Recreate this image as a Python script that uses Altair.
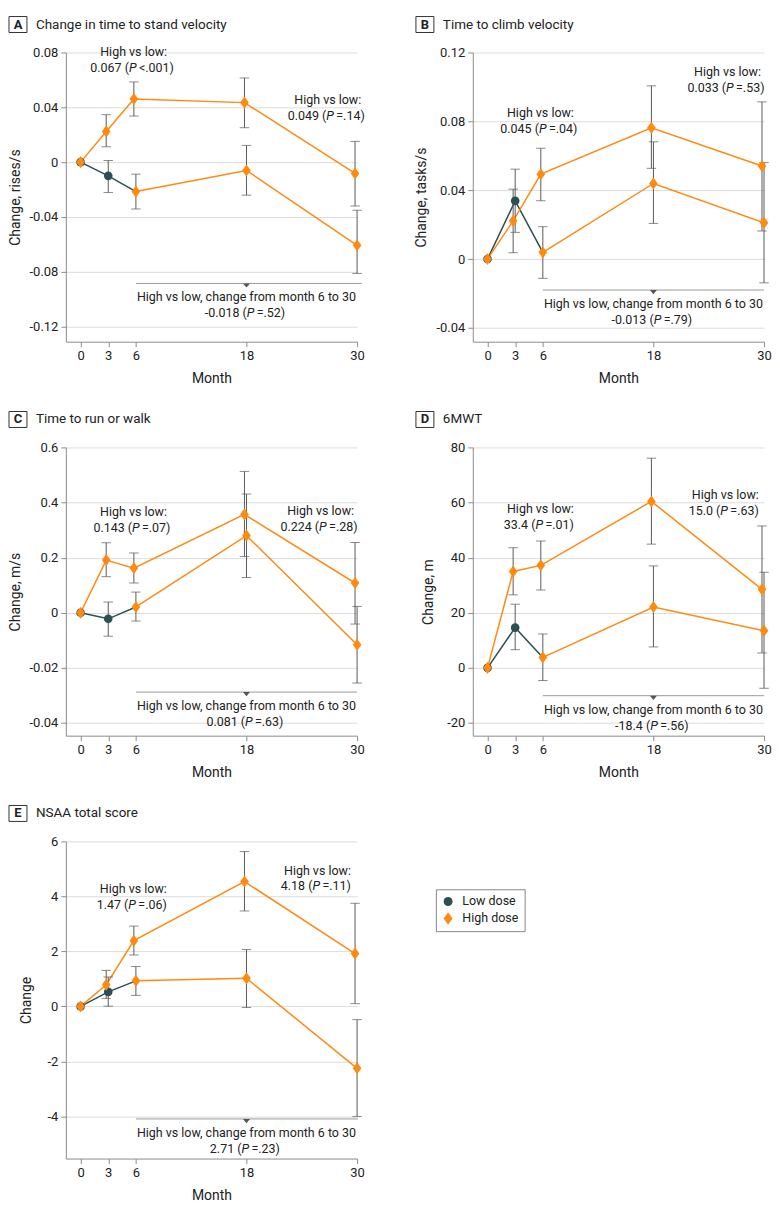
import altair as alt
import pandas as pd

# ---------------- data ----------------
MONTHS = [0, 3, 6, 18, 30]

PANEL_LETTERS = ["A", "B", "C", "D", "E"]
PANEL_TITLES = ["Change in time to stand velocity", "Time to climb velocity",
                "Time to run or walk", "6MWT", "NSAA total score"]
Y_TITLES = ["Change, rises/s", "Change, tasks/s", "Change, m/s", "Change, m", "Change"]

Y_DOMAINS = [[-0.131, 0.08], [-0.048, 0.12], [-0.446, 0.6], [-24.6, 80], [-5.53, 6]]
Y_TICKS = [[-0.12, -0.08, -0.04, 0, 0.04, 0.08],
           [-0.04, 0, 0.04, 0.08, 0.12],
           [-0.4, -0.2, 0, 0.2, 0.4, 0.6],
           [-20, 0, 20, 40, 60, 80],
           [-4, -2, 0, 2, 4, 6]]
Y_TICK_LABELS = [["-0.12", "-0.08", "-0.04", "0", "0.04", "0.08"],
                 ["-0.04", "0", "0.04", "0.08", "0.12"],
                 ["-0.04", "-0.02", "0", "0.2", "0.4", "0.6"],
                 ["-20", "0", "20", "40", "60", "80"],
                 ["-4", "-2", "0", "2", "4", "6"]]

# Panel A - time to stand velocity
A_HIGH = [0, 0.0224, 0.0460, 0.0434, -0.0083]
A_HIGH_LO = [None, 0.0112, 0.0336, 0.0251, -0.0320]
A_HIGH_HI = [None, 0.0346, 0.0585, 0.0614, 0.0151]
A_LOW = [0, -0.0100, -0.0215, -0.0061, -0.0607]
A_LOW_LO = [None, -0.0222, -0.0342, -0.0241, -0.0812]
A_LOW_HI = [None, 0.0012, -0.0088, 0.0122, -0.0351]

# Panel B - time to climb velocity
B_HIGH = [0, 0.0222, 0.0493, 0.0762, 0.0540]
B_HIGH_LO = [None, 0.0037, 0.0339, 0.0527, 0.0163]
B_HIGH_HI = [None, 0.0406, 0.0643, 0.1006, 0.0913]
B_LOW = [0, 0.0338, 0.0039, 0.0439, 0.0211]
B_LOW_LO = [None, 0.0155, -0.0112, 0.0207, -0.0138]
B_LOW_HI = [None, 0.0522, 0.0188, 0.0681, 0.0560]

# Panel C - time to run or walk
C_HIGH = [0, 0.191, 0.162, 0.357, 0.108]
C_HIGH_LO = [None, 0.131, 0.108, 0.204, -0.041]
C_HIGH_HI = [None, 0.254, 0.217, 0.513, 0.255]
C_LOW = [0, -0.022, 0.021, 0.280, -0.116]
C_LOW_LO = [None, -0.085, -0.030, 0.128, -0.255]
C_LOW_HI = [None, 0.039, 0.075, 0.431, 0.023]

# Panel D - 6MWT
D_HIGH = [0, 35.0, 37.2, 60.4, 28.5]
D_HIGH_LO = [None, 26.5, 28.3, 44.9, 5.4]
D_HIGH_HI = [None, 43.6, 46.0, 76.1, 51.5]
D_LOW = [0, 14.6, 3.8, 22.1, 13.5]
D_LOW_LO = [None, 6.6, -4.6, 7.6, -7.4]
D_LOW_HI = [None, 23.1, 12.3, 37.0, 34.7]

# Panel E - NSAA total score
E_HIGH = [0, 0.79, 2.39, 4.54, 1.92]
E_HIGH_LO = [None, 0.29, 1.87, 3.47, 0.10]
E_HIGH_HI = [None, 1.31, 2.92, 5.63, 3.75]
E_LOW = [0, 0.53, 0.93, 1.02, -2.25]
E_LOW_LO = [None, 0.01, 0.40, -0.04, -4.00]
E_LOW_HI = [None, 1.07, 1.45, 2.07, -0.48]

SERIES = [
    (A_HIGH, A_HIGH_LO, A_HIGH_HI, A_LOW, A_LOW_LO, A_LOW_HI),
    (B_HIGH, B_HIGH_LO, B_HIGH_HI, B_LOW, B_LOW_LO, B_LOW_HI),
    (C_HIGH, C_HIGH_LO, C_HIGH_HI, C_LOW, C_LOW_LO, C_LOW_HI),
    (D_HIGH, D_HIGH_LO, D_HIGH_HI, D_LOW, D_LOW_LO, D_LOW_HI),
    (E_HIGH, E_HIGH_LO, E_HIGH_HI, E_LOW, E_LOW_LO, E_LOW_HI),
]

# annotations
ANN_HEAD = "High vs low:"
ANN_LEFT_STAT = ["0.067 (P <.001)", "0.045 (P =.04)", "0.143 (P =.07)", "33.4 (P =.01)", "1.47 (P =.06)"]
ANN_LEFT_X = [5.76, 5.74, 5.74, 5.74, 5.72]
ANN_LEFT_Y = [0.0806, 0.0846, 0.3655, 57.5, 4.28]
ANN_RIGHT_STAT = ["0.049 (P =.14)", "0.033 (P =.53)", "0.224 (P =.28)", "15.0 (P =.63)", "4.18 (P =.11)"]
ANN_RIGHT_X = [26.82, 26.04, 26.04, 25.8, 25.7]
ANN_RIGHT_Y = [0.0455, 0.1087, 0.369, 62.7, 4.94]
BOTTOM_HEAD = "High vs low, change from month 6 to 30"
BOTTOM_STAT = ["-0.018 (P =.52)", "-0.013 (P =.79)", "0.081 (P =.63)", "-18.4 (P =.56)", "2.71 (P =.23)"]
BOTTOM_RULE_Y = [-0.0885, -0.018, -0.2878, -10.1, -4.09]
BOTTOM_RULE_X = [6, 6, 6, 6, 6]
BOTTOM_RULE_X2 = [30.5, 30, 30, 30, 30.1]
BOTTOM_MARK_X = 18

DOSES = ["Low dose", "High dose"]

# ---------------- style ----------------
FONT = "Roboto"
TXT = "#222222"
AXC = "#8c8c8c"
GRID = "#dcdcdc"
EB = "#5a5a5a"
TEAL = "#2b4f52"
ORANGE = "#ff8a10"
DIAMOND = "M0,-1.4L1,0L0,1.4L-1,0Z"
TRI_DOWN = "M-1,0L1,0L0,1.2Z"
NBSP = "\u00a0"

PLOT_W = 292
HEIGHTS = [290, 290, 289, 289, 318]
X_DOMAIN = [-1.6, 30]
HIGH_SHIFT = -0.22
Y_TITLE_X = [-50, -51.6, -50.8, -44, -39.2]
FS = 12.5

COLOR_SCALE = alt.Scale(domain=DOSES, range=[TEAL, ORANGE])
SHAPE_SCALE = alt.Scale(domain=DOSES, range=["circle", DIAMOND])

CHAR_W = {c: 0.562 for c in "0123456789"}
CHAR_W.update({".": 0.26, " ": 0.25, "(": 0.34, ")": 0.35, "<": 0.51, "=": 0.55,
               "-": 0.28, "P": 0.8})


def text_w(s):
    return sum(CHAR_W.get(c, 0.55) for c in s) * FS


def label_expr(vals, labels):
    parts = [f"abs(datum.value - ({v})) < 0.000001 ? '{l}'" for v, l in zip(vals, labels)]
    return " : ".join(parts) + " : ''"


def make_panel(i):
    high, hlo, hhi, low, llo, lhi = SERIES[i]
    H = HEIGHTS[i]
    ydom = Y_DOMAINS[i]
    ppm = PLOT_W / (X_DOMAIN[1] - X_DOMAIN[0])
    vpp = (ydom[1] - ydom[0]) / H

    xs = alt.Scale(domain=X_DOMAIN, nice=False, zero=False)
    ys = alt.Scale(domain=ydom, nice=False, zero=False)

    def X(f):
        return alt.X(f, type="quantitative", scale=xs)

    def Y(f):
        return alt.Y(f, type="quantitative", scale=ys)

    # frames
    pts, bars, caps, lines = [], [], [], []
    for j, m in enumerate(MONTHS):
        d = DOSES[0] if m <= 3 else DOSES[1]
        pts.append(dict(x=m, v=low[j], dose=d))
        if llo[j] is not None:
            bars.append(dict(x=m, lo=llo[j], hi=lhi[j]))
            caps += [dict(x=m, v=llo[j]), dict(x=m, v=lhi[j])]
        if m <= 6:
            lines.append(dict(x=m, v=low[j], dose=DOSES[0], seg="low1"))
        if m >= 6:
            lines.append(dict(x=m, v=low[j], dose=DOSES[1], seg="low2"))
    for j, m in enumerate(MONTHS):
        xm = m + (HIGH_SHIFT if m > 0 else 0)
        pts.append(dict(x=xm, v=high[j], dose=DOSES[1]))
        if hlo[j] is not None:
            bars.append(dict(x=xm, lo=hlo[j], hi=hhi[j]))
            caps += [dict(x=xm, v=hlo[j]), dict(x=xm, v=hhi[j])]
        lines.append(dict(x=xm, v=high[j], dose=DOSES[1], seg="high"))

    pts, bars, caps, lines = map(pd.DataFrame, (pts, bars, caps, lines))

    xaxis = alt.Axis(values=MONTHS, title="Month", grid=False, tickSize=5,
                     labelPadding=3, titlePadding=9, domainColor=AXC, tickColor=AXC,
                     labelFont=FONT, titleFont=FONT, labelFontSize=13, titleFontSize=14,
                     labelColor=TXT, titleColor=TXT, titleFontWeight="normal",
                     labelFlush=False)
    yaxis = alt.Axis(values=Y_TICKS[i], labelExpr=label_expr(Y_TICKS[i], Y_TICK_LABELS[i]),
                     title=Y_TITLES[i], grid=True, gridColor=GRID, tickSize=5,
                     labelPadding=3, domainColor=AXC, tickColor=AXC,
                     labelFont=FONT, titleFont=FONT, labelFontSize=13, titleFontSize=14,
                     labelColor=TXT, titleColor=TXT, titleFontWeight="normal",
                     titleX=Y_TITLE_X[i], titleBaseline="middle", labelFlush=False)

    line_l = alt.Chart(lines).mark_line(strokeWidth=1.5).encode(
        x=alt.X("x:Q", scale=xs, axis=xaxis),
        y=alt.Y("v:Q", scale=ys, axis=yaxis),
        stroke=alt.Stroke("dose:N", scale=COLOR_SCALE, legend=None),
        detail="seg:N",
    )
    bar_l = alt.Chart(bars).mark_rule(color=EB, strokeWidth=1).encode(
        x=X("x"), y=Y("lo"), y2="hi:Q")
    cap_l = alt.Chart(caps).mark_tick(orient="horizontal", size=9.5, thickness=1, color=EB).encode(
        x=X("x"), y=Y("v"))

    if i == 4:
        legend = alt.Legend(title=None, orient="none", legendX=371, legendY=48,
                            strokeColor="#888888", fillColor="white", padding=6,
                            labelFont=FONT, labelFontSize=12.5, labelColor=TXT,
                            symbolSize=80, labelOffset=8, rowPadding=3,
                            symbolStrokeWidth=0)
    else:
        legend = None
    pt_l = alt.Chart(pts).mark_point(filled=True, opacity=1, size=75).encode(
        x=X("x"), y=Y("v"),
        color=alt.Color("dose:N", scale=COLOR_SCALE, legend=legend),
        shape=alt.Shape("dose:N", scale=SHAPE_SCALE, legend=legend),
    )

    # bottom comparison bracket
    rule_df = pd.DataFrame({"x": [BOTTOM_RULE_X[i]], "x2": [BOTTOM_RULE_X2[i]],
                            "v": [BOTTOM_RULE_Y[i]], "m": [BOTTOM_MARK_X]})
    rule_l = alt.Chart(rule_df).mark_rule(color="#9a9a9a", strokeWidth=1).encode(
        x=X("x"), x2="x2:Q", y=Y("v"))
    tri_l = alt.Chart(rule_df).mark_point(shape=TRI_DOWN, filled=True, size=49,
                                          color="#555555", opacity=1).encode(
        x=X("m"), y=Y("v"))

    # annotation texts
    heads = pd.DataFrame({
        "x": [ANN_LEFT_X[i], ANN_RIGHT_X[i], BOTTOM_MARK_X],
        "v": [ANN_LEFT_Y[i], ANN_RIGHT_Y[i], BOTTOM_RULE_Y[i] - 14 * vpp],
        "t": [ANN_HEAD, ANN_HEAD, BOTTOM_HEAD],
    })
    stats = [(ANN_LEFT_X[i], ANN_LEFT_Y[i] - 16 * vpp, ANN_LEFT_STAT[i]),
             (ANN_RIGHT_X[i], ANN_RIGHT_Y[i] - 16 * vpp, ANN_RIGHT_STAT[i]),
             (BOTTOM_MARK_X, BOTTOM_RULE_Y[i] - 30 * vpp, BOTTOM_STAT[i])]
    rows = []
    for (cx, cy, s) in stats:
        left, right = s.split("P", 1)
        wl, wp, wr = text_w(left), text_w("P"), text_w(right)
        pl = -(wl + wp + wr) / 2 + wl
        rows.append(dict(v=cy, xl=cx + pl / ppm, xr=cx + (pl + wp) / ppm,
                         left=left.replace(" ", NBSP), p="P",
                         right=right.strip()))
    stat_df = pd.DataFrame(rows)

    tkw = dict(font=FONT, fontSize=FS, color=TXT, baseline="middle")
    head_l = alt.Chart(heads).mark_text(align="center", **tkw).encode(
        x=X("x"), y=Y("v"), text="t:N")
    sl_l = alt.Chart(stat_df).mark_text(align="right", **tkw).encode(
        x=X("xl"), y=Y("v"), text="left:N")
    sp_l = alt.Chart(stat_df).mark_text(align="left", fontStyle="italic", **tkw).encode(
        x=X("xl"), y=Y("v"), text="p:N")
    sr_l = alt.Chart(stat_df).mark_text(align="left", **tkw).encode(
        x=X("xr"), y=Y("v"), text="right:N")

    # panel label and title
    lab = pd.DataFrame({"letter": [PANEL_LETTERS[i]], "title": [PANEL_TITLES[i]]})
    box_l = alt.Chart(lab).mark_rect(fill="white", stroke="#333333", strokeWidth=1).encode(
        x=alt.value(-57), x2=alt.value(-39), y=alt.value(-36), y2=alt.value(-20))
    let_l = alt.Chart(lab).mark_text(font=FONT, fontSize=13, fontWeight="bold",
                                     align="center", baseline="middle", color=TXT).encode(
        x=alt.value(-48), y=alt.value(-28), text="letter:N")
    tit_l = alt.Chart(lab).mark_text(font=FONT, fontSize=13.5, align="left",
                                     baseline="middle", color=TXT).encode(
        x=alt.value(-30), y=alt.value(-28), text="title:N")

    return alt.layer(line_l, bar_l, cap_l, rule_l, tri_l, pt_l, head_l, sl_l, sp_l, sr_l,
                     box_l, let_l, tit_l).properties(width=PLOT_W, height=H)


panels = [make_panel(i) for i in range(5)]

chart = alt.concat(*panels, columns=2, spacing={"row": 106, "column": 116},
                   bounds="flush").resolve_scale(
    color="independent", shape="independent"
).properties(
    padding={"left": 0, "top": 6, "right": 0, "bottom": 0},
    background="white",
).configure_view(stroke=None)

chart.save("out.html", embed_options={"renderer": "svg", "actions": False})
